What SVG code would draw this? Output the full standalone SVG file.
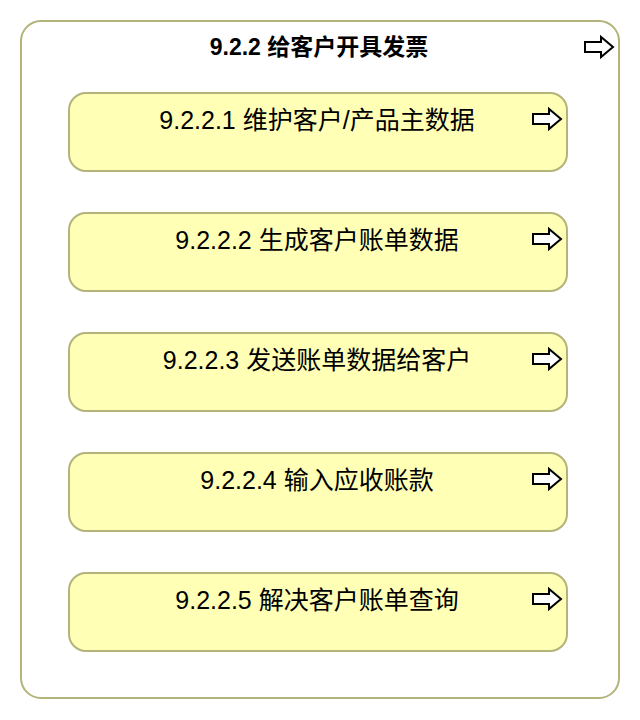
<svg xmlns="http://www.w3.org/2000/svg" width="640" height="720" viewBox="0 0 640 720">
<style>
.outer{fill:#ffffff;stroke:#b3b37a;stroke-width:2}
.box{fill:#ffffb5;stroke:#b3b37a;stroke-width:2}
.t{font-family:"Liberation Sans","Noto Sans CJK SC",sans-serif;font-size:25px;fill:#000;text-anchor:middle}
.title{font-family:"Liberation Sans","Noto Sans CJK SC",sans-serif;font-size:23px;font-weight:bold;fill:#000;text-anchor:middle}
.arr{fill:#ffffff;stroke:#000;stroke-width:2;stroke-linejoin:miter}
</style>
<defs>
<path id="arrow" d="M0,-5 L16,-5 L16,-10 L28,0 L16,10 L16,5 L0,5 Z"/>
</defs>
<g id="parent">
<rect class="outer" x="21" y="21" width="598" height="677" rx="20" ry="20"/>
<text class="title" x="319" y="55">9.2.2 给客户开具发票</text>
<use href="#arrow" class="arr" x="585" y="47"/>
</g>
<g id="n1">
<rect class="box" x="69" y="93" width="498" height="78" rx="17" ry="17"/>
<text class="t" x="317" y="129">9.2.2.1 维护客户/产品主数据</text>
<use href="#arrow" class="arr" x="533" y="119"/>
</g>
<g id="n2">
<rect class="box" x="69" y="213" width="498" height="78" rx="17" ry="17"/>
<text class="t" x="317" y="249">9.2.2.2 生成客户账单数据</text>
<use href="#arrow" class="arr" x="533" y="239"/>
</g>
<g id="n3">
<rect class="box" x="69" y="333" width="498" height="78" rx="17" ry="17"/>
<text class="t" x="317" y="369">9.2.2.3 发送账单数据给客户</text>
<use href="#arrow" class="arr" x="533" y="359"/>
</g>
<g id="n4">
<rect class="box" x="69" y="453" width="498" height="78" rx="17" ry="17"/>
<text class="t" x="317" y="489">9.2.2.4 输入应收账款</text>
<use href="#arrow" class="arr" x="533" y="479"/>
</g>
<g id="n5">
<rect class="box" x="69" y="573" width="498" height="78" rx="17" ry="17"/>
<text class="t" x="317" y="609">9.2.2.5 解决客户账单查询</text>
<use href="#arrow" class="arr" x="533" y="599"/>
</g>
<g id="connectors"></g>
</svg>
